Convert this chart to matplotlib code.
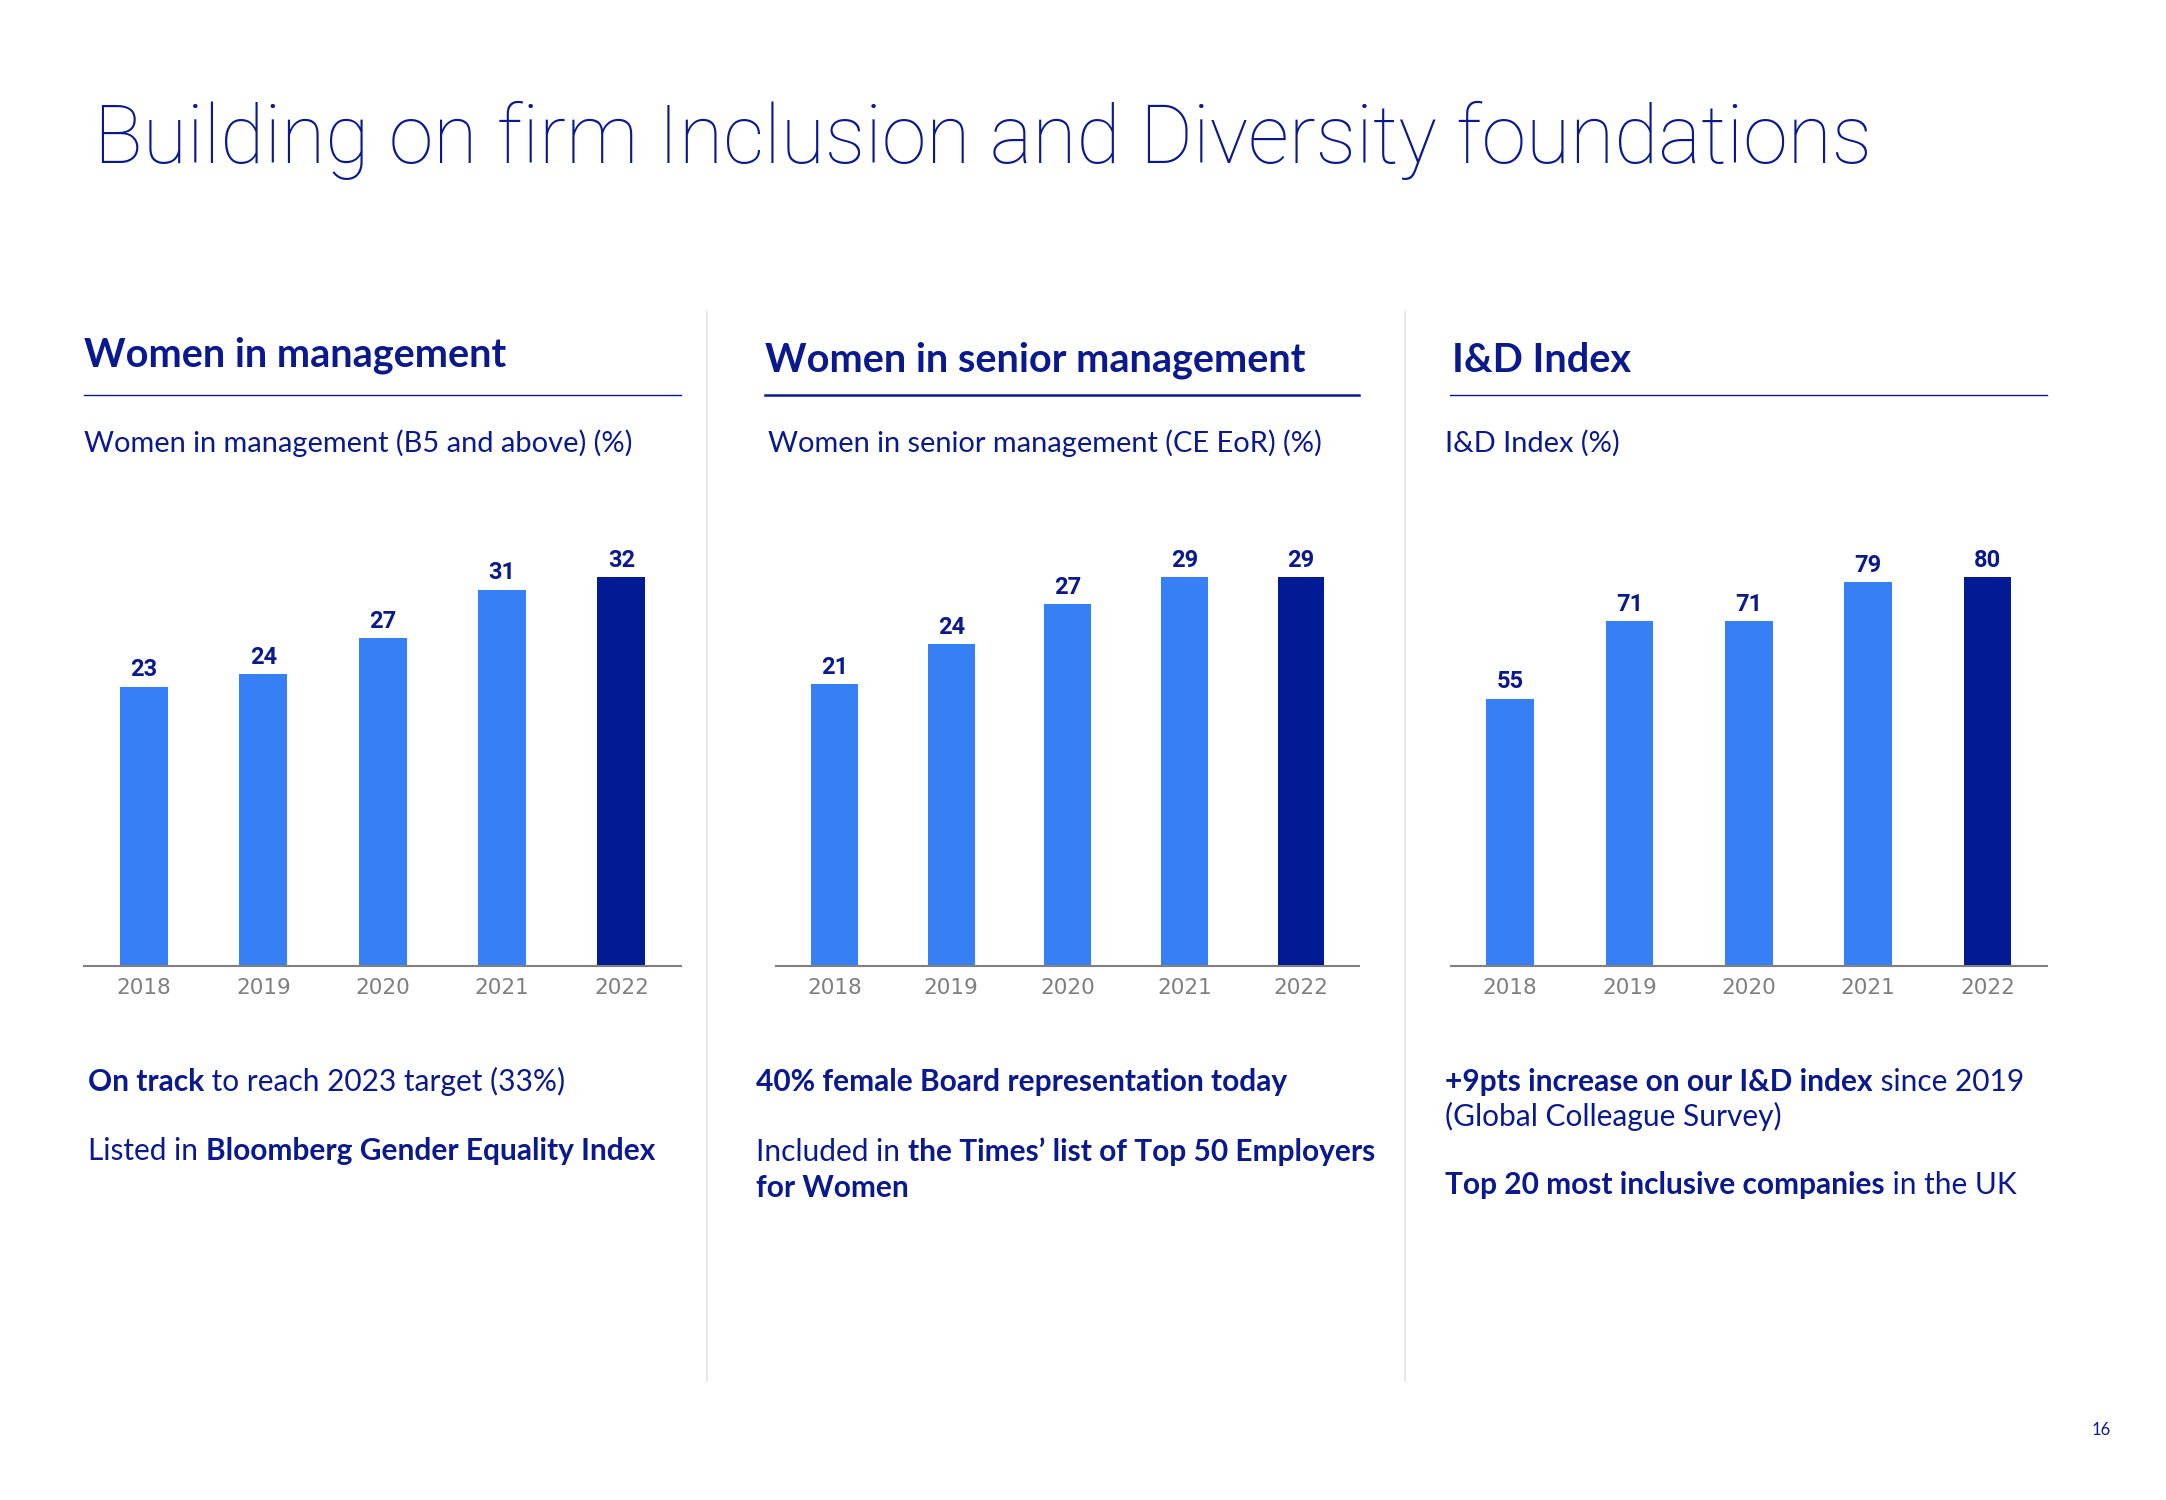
import matplotlib
matplotlib.use('Agg')
import matplotlib.pyplot as plt

W, H = 2166, 1500
NAVY = '#0A1A8E'
BLUE = '#367FF5'
DARK = '#021A94'
GRAY = '#808080'
SEP = '#E3E3E3'
FONT = ['Lato', 'DejaVu Sans']

years = ['2018', '2019', '2020', '2021', '2022']
women_mgmt = [23, 24, 27, 31, 32]
women_senior = [21, 24, 27, 29, 29]
id_index = [55, 71, 71, 79, 80]

page_title = 'Building on firm Inclusion and Diversity foundations'
headers = ['Women in management', 'Women in senior management', 'I&D Index']
subtitles = ['Women in management (B5 and above) (%)',
             'Women in senior management (CE EoR) (%)',
             'I&D Index (%)']
notes = [
    [[('On track', True), (' to reach 2023 target (33%)', False)],
     [('Listed in ', False), ('Bloomberg Gender Equality Index', True)]],
    [[('40% female Board representation today', True)],
     [('Included in ', False), ("the Times\u2019 list of Top 50 Employers", True)],
     [('for Women', True)]],
    [[('+9pts increase on our I&D index', True), (' since 2019', False)],
     [('(Global Colleague Survey)', False)],
     [('Top 20 most inclusive companies', True), (' in the UK', False)]],
]
page_number = '16'

series = [women_mgmt, women_senior, id_index]

fig = plt.figure(figsize=(W / 100, H / 100), dpi=100)
fig.patch.set_facecolor('white')

bg = fig.add_axes([0, 0, 1, 1])
bg.set_xlim(0, W)
bg.set_ylim(H, 0)
bg.axis('off')

# layout (pixels)
panel_x = [(84.3, 681.0), (776.3, 1359.3), (1450.5, 2047.2)]
header_pos = [(84, 355), (765, 360), (1452, 360)]
rule_x = [(84, 681), (765, 1359), (1450, 2047)]
rule_lw = [1.0, 1.8, 1.0]
sub_pos = [(84, 443), (768, 443), (1445, 443)]
note_x = [88, 756, 1445]
note_y = [[1082, 1151], [1082, 1152, 1188], [1082, 1116, 1185]]
ax_top, ax_bot = 525, 965.6

# separators
for sx in (707, 1405):
    bg.plot([sx, sx], [311, 1381], color=SEP, lw=1.2)

title_t = bg.text(94, 163, page_title, fontsize=52, fontweight='light',
                  color=NAVY, family=['Roboto', 'DejaVu Sans'], va='baseline', ha='left')

head_ts = []
for (hx, hy), h in zip(header_pos, headers):
    head_ts.append(bg.text(hx, hy, h, fontsize=28, fontweight='bold', color=NAVY,
                           family=FONT, va='center', ha='left'))
for (x0, x1), lw in zip(rule_x, rule_lw):
    bg.plot([x0, x1], [395, 395], color=NAVY, lw=lw)

sub_ts = []
for (sx, sy), s in zip(sub_pos, subtitles):
    sub_ts.append(bg.text(sx, sy, s, fontsize=20, color=NAVY, family=FONT,
                          va='center', ha='left'))

note_ts = []
ref_note = None
for nx, ys, lines in zip(note_x, note_y, notes):
    for y, parts in zip(ys, lines):
        prev = None
        for s, b in parts:
            kw = dict(fontsize=20, fontweight='bold' if b else 'normal', color=NAVY,
                      family=FONT, ha='left')
            if prev is None:
                prev = bg.text(nx, y, s, va='center', **kw)
            else:
                prev = bg.annotate(s, xy=(1, 0), xycoords=prev, va='bottom', **kw)
            note_ts.append(prev)
            if s.startswith('(Global'):
                ref_note = prev

bg.text(2101, 1430, page_number, fontsize=12, color=NAVY, family=FONT,
        ha='center', va='center')

for (x0, x1), vals in zip(panel_x, series):
    ax = fig.add_axes([x0 / W, 1 - ax_bot / H, (x1 - x0) / W, (ax_bot - ax_top) / H])
    ax.patch.set_alpha(0)
    colors = [BLUE] * (len(vals) - 1) + [DARK]
    ax.bar(range(len(vals)), vals, width=0.4, color=colors)
    ax.set_xlim(-0.5, len(vals) - 0.5)
    ax.set_ylim(0, max(vals) * 1.135)
    for sp in ('top', 'right', 'left'):
        ax.spines[sp].set_visible(False)
    ax.spines['bottom'].set_color(GRAY)
    ax.spines['bottom'].set_linewidth(1.5)
    ax.set_yticks([])
    ax.set_xticks(range(len(vals)))
    ax.set_xticklabels(years, fontsize=15.5, color='#7F7F7F', family='DejaVu Sans')
    ax.tick_params(axis='x', length=0, pad=9)
    for i, v in enumerate(vals):
        ax.annotate(str(v), (i, v), xytext=(0, 4), textcoords='offset points',
                    ha='center', va='bottom', fontsize=17, fontweight='bold',
                    color=NAVY, family=['Roboto', 'DejaVu Sans'])

# fit text sizes to the reference widths
fig.canvas.draw()
r = fig.canvas.get_renderer()

def fitted(t, target):
    return t.get_fontsize() * target / t.get_window_extent(r).width

title_t.set_fontsize(fitted(title_t, 1779))
hs = [fitted(t, w) for t, w in zip(head_ts, [429.6, 547, 172.7])]
for t in head_ts:
    t.set_fontsize(sum(hs) / len(hs))
ss = [fitted(t, w) for t, w in zip(sub_ts, [559.5, 558, 171])]
for t in sub_ts:
    t.set_fontsize(sum(ss) / len(ss))
ns = fitted(ref_note, 336)
for t in note_ts:
    t.set_fontsize(ns)

fig.savefig('out.png', dpi=100, facecolor='white')
